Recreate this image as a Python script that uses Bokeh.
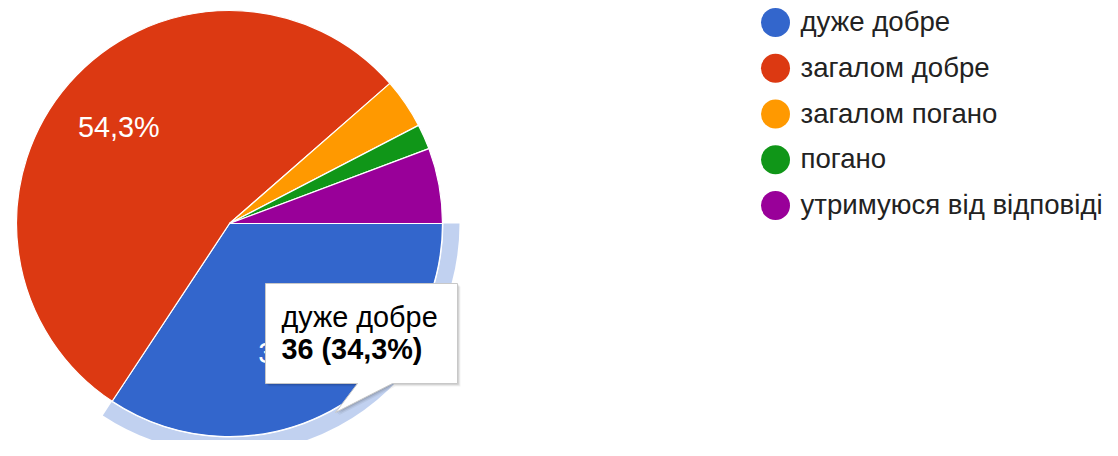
import math
from bokeh.plotting import figure
from bokeh.models import ColumnDataSource, Range1d
from bokeh.core.properties import value
from bokeh.embed import file_html
from bokeh.resources import INLINE

# ---- data ----
categories = ["дуже добре", "загалом добре", "загалом погано", "погано", "утримуюся від відповіді"]
counts = [36, 57, 4, 2, 6]
colors = ["#3366cc", "#dc3912", "#ff9900", "#109618", "#990099"]

# ---- layout (image pixel coords -> data: x = px, y = 456 - py) ----
W, H = 1102, 440
IMG_H = 456
FONT = value("Liberation Sans")
FS = "28.8px"
FS_LEG = "27.6px"

def Y(py):
    return IMG_H - py

p = figure(width=W, height=H, x_range=Range1d(0, W), y_range=Range1d(IMG_H - H, IMG_H),
           output_backend="svg", toolbar_location=None, min_border=0)
p.axis.visible = False
p.grid.visible = False
p.outline_line_color = None
p.background_fill_color = "white"

cx, cy, R = 229, Y(223), 213
total = sum(counts)
starts, ends, mids, pcts = [], [], [], []
cum = 0
for c in counts:
    a0 = cum / total * 2 * math.pi
    cum += c
    a1 = cum / total * 2 * math.pi
    starts.append(-a1)
    ends.append(-a0)
    mids.append(-(a0 + a1) / 2)
    pcts.append(c / total * 100)

src = ColumnDataSource(dict(start=starts, end=ends, color=colors, cat=categories))

# highlight ring around hovered slice (first slice)
p.annular_wedge(x=cx, y=cy, inner_radius=214, outer_radius=230,
                start_angle=starts[0], end_angle=ends[0], color=colors[0], alpha=0.3,
                line_color=None)

p.wedge(x=cx, y=cy, radius=R, start_angle="start", end_angle="end", fill_color="color",
        line_color="white", line_width=1.2, source=src)

# slice labels
LR = 147
lx, ly, lt = [], [], []
for m, pc in zip(mids, pcts):
    if pc > 10:
        lx.append(cx + LR * math.cos(m))
        ly.append(cy + LR * math.sin(m))
        lt.append(f"{pc:.1f}%".replace(".", ","))
p.text(x=lx, y=ly, text=lt, text_color="white", text_font=FONT, text_font_size=FS,
       text_align="center", text_baseline="middle")

# tooltip
bx0, bx1, by0, by1 = 265, 457, 283, 383
tail = [(392, 383), (335, 412), (357, 383)]
poly = [(bx0, by0), (bx1, by0), (bx1, by1)] + tail + [(bx0, by1)]
for off, a in [(3, 0.05), (2, 0.08), (1, 0.10)]:
    p.patch([x + off for x, _ in poly], [Y(y + off) for _, y in poly],
            fill_color="black", fill_alpha=a, line_color=None)
p.patch([x for x, _ in poly], [Y(y) for _, y in poly], fill_color="white",
        line_color="#c8c8c8", line_width=1)
p.text(x=[281], y=[Y(316)], text=[categories[0]], text_color="#000000", text_font=FONT,
       text_font_size=FS, text_baseline="middle")
p.text(x=[281], y=[Y(348)], text=[f"{counts[0]} ({pcts[0]:.1f}%)".replace(".", ",")],
       text_color="#000000", text_font=FONT, text_font_size=FS, text_font_style="bold",
       text_baseline="middle")

# legend
ly0, step = 22, 45.75
leg_y = [Y(ly0 + i * step) for i in range(len(categories))]
p.scatter(x=[775] * len(categories), y=leg_y, marker="circle", size=29,
          fill_color=colors, line_color=None)
p.text(x=[800] * len(categories), y=[y + 1 for y in leg_y], text=categories,
       text_color="#222222", text_font=FONT, text_font_size=FS_LEG, text_baseline="middle")

open("out.html", "w").write(file_html(p, INLINE))
